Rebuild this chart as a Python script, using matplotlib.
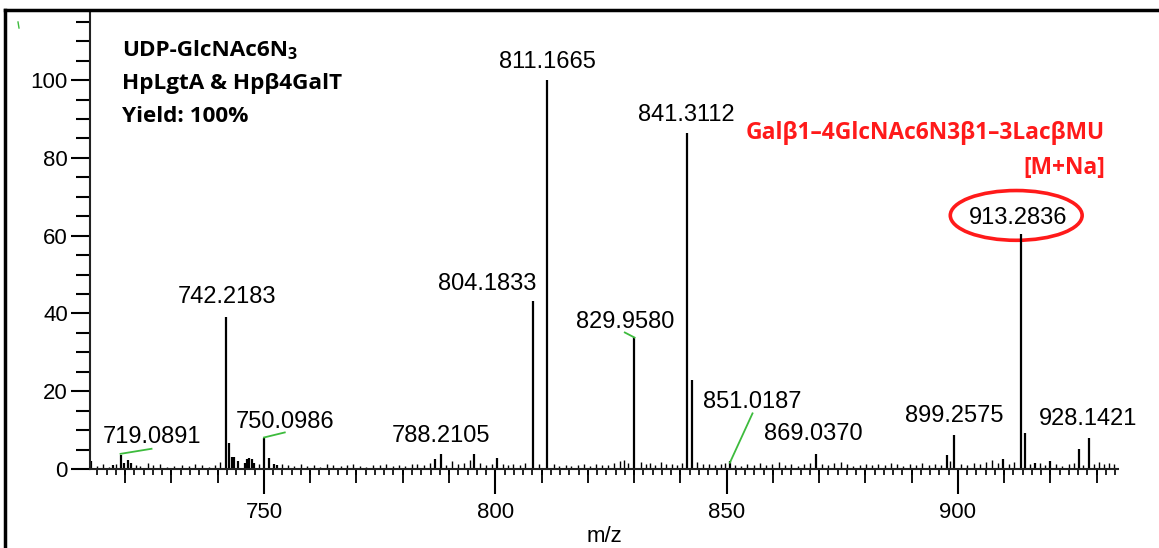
import matplotlib.pyplot as plt
import numpy as np
from matplotlib.patches import Ellipse
from matplotlib.ticker import MultipleLocator

plt.rcParams['font.family'] = ['Liberation Sans', 'DejaVu Sans']

# main peaks (m/z as drawn, relative intensity %)
peak_mz = [712.6, 717.3, 719.0, 719.7, 720.6, 721.2, 741.9, 742.4, 743.2, 743.5,
           744.4, 745.8, 746.3, 746.8, 747.4, 747.8, 750.0, 751.1, 752.2, 752.8,
           787.0, 788.3, 795.5, 800.3, 808.1, 811.2, 830.0, 841.4, 842.5, 850.7,
           869.3, 897.7, 899.2, 909.7, 913.6, 914.5, 916.6, 919.9, 926.2, 928.3]
peak_int = [2.0, 1.0, 3.5, 1.5, 2.2, 1.5, 39.0, 6.7, 3.0, 3.0,
            2.0, 1.5, 2.5, 2.7, 2.5, 1.5, 8.0, 2.8, 1.3, 1.0,
            2.5, 3.9, 3.8, 2.7, 43.3, 100.0, 34.0, 86.3, 22.8, 2.0,
            3.9, 3.5, 8.8, 2.5, 60.3, 9.3, 1.5, 2.0, 5.2, 8.0]

# baseline noise peaks
noise_mz = [714.0, 715.2, 716.5, 718.1, 722.4, 723.3, 724.9, 726.0, 727.6, 729.1,
            730.5, 732.2, 733.8, 735.0, 736.6, 738.1, 739.4, 740.6, 749.0, 753.9,
            755.1, 756.4, 758.0, 759.3, 760.9, 762.2, 763.7, 765.0, 766.6, 767.9,
            769.2, 770.8, 772.1, 773.5, 775.0, 776.3, 777.8, 779.2, 780.4, 781.9,
            783.1, 784.6, 785.8, 789.4, 790.6, 792.0, 793.3, 794.6, 796.7, 798.0,
            799.2, 801.6, 802.8, 803.9, 805.3, 806.5, 809.4, 812.6, 813.8, 815.2,
            816.4, 817.9, 819.1, 820.5, 821.8, 823.0, 824.4, 825.6, 826.9, 827.8,
            828.6, 831.4, 832.5, 833.4, 834.6, 835.8, 836.9, 838.1, 839.2, 840.3,
            843.6, 844.9, 846.2, 847.5, 848.7, 849.6, 851.8, 853.2, 854.5, 855.9,
            857.2, 858.6, 859.9, 861.3, 862.6, 864.0, 865.4, 866.7, 868.0, 870.6,
            872.0, 873.3, 874.7, 876.0, 877.4, 878.8, 880.1, 881.5, 882.8, 884.2,
            885.5, 886.9, 888.2, 889.6, 891.0, 892.3, 893.7, 895.0, 896.4, 898.3,
            900.6, 902.0, 903.4, 904.7, 906.1, 907.4, 908.6, 911.0, 912.2, 915.6,
            917.8, 918.9, 921.3, 922.6, 924.0, 925.1, 927.0, 929.4, 930.5, 931.6,
            932.7, 933.8]
noise_int = [0.8, 1.2, 0.6, 1.4, 1.1, 0.7, 1.6, 0.9, 1.2, 0.6,
             0.8, 1.0, 0.7, 1.3, 0.9, 0.6, 1.0, 1.8, 1.2, 1.4,
             1.0, 0.7, 1.2, 0.8, 1.1, 0.6, 1.3, 0.9, 0.7, 1.0,
             1.2, 0.8, 0.6, 1.1, 0.9, 1.3, 0.7, 1.0, 0.8, 1.4,
             1.2, 0.9, 1.6, 1.1, 2.0, 1.3, 1.6, 2.2, 1.5, 1.0,
             1.4, 1.3, 0.9, 1.2, 1.0, 1.5, 1.2, 1.4, 0.8, 1.1,
             0.7, 1.0, 1.2, 0.8, 1.3, 0.9, 1.1, 1.6, 2.0, 2.4,
             1.5, 1.8, 1.3, 1.5, 1.1, 1.7, 1.2, 1.4, 1.0, 1.6,
             1.8, 1.2, 1.4, 0.9, 1.3, 1.5, 1.1, 0.8, 1.2, 1.0,
             1.5, 0.9, 1.3, 1.7, 1.1, 1.4, 0.8, 1.2, 1.6, 1.3,
             1.0, 1.5, 1.7, 1.2, 0.8, 1.1, 1.4, 0.9, 1.3, 1.0,
             1.5, 1.2, 0.8, 1.4, 1.1, 1.6, 0.9, 1.2, 1.0, 2.0,
             1.3, 1.1, 1.5, 1.2, 1.8, 2.2, 1.6, 1.4, 1.7, 1.2,
             1.6, 1.0, 1.3, 0.8, 1.2, 1.5, 1.1, 1.4, 1.7, 1.2,
             1.6, 1.3]

# peak labels: text, label position
label_txt = ['719.0891', '742.2183', '750.0986', '788.2105', '804.1833', '811.1665',
             '829.9580', '841.3112', '851.0187', '869.0370', '899.2575', '913.2836',
             '928.1421']
label_x = [725.8, 742.0, 754.5, 788.3, 798.2, 811.2, 828.0, 841.2, 855.5, 868.7,
           899.1, 913.0, 928.2]
label_y = [8.2, 44.2, 12.0, 8.5, 47.6, 104.7, 37.8, 91.1, 17.2, 9.0,
           13.6, 64.6, 12.9]

# green leader lines (x0, x1, y0, y1)
leader_x = [(719.0, 725.7), (750.0, 754.5), (828.0, 830.1), (850.7, 855.6)]
leader_y = [(3.9, 5.2), (8.1, 9.4), (35.1, 33.8), (1.6, 14.3)]

green = '#3dbb3d'
red = '#ff1a1a'
bold_font = ['Open Sans', 'DejaVu Sans']

fig = plt.figure(figsize=(11.59, 5.48), dpi=100)
ax = fig.add_axes([90/1159, 79/548, 1028/1159, 457/548])

ax.vlines(noise_mz, 0, noise_int, color='k', lw=1.0)
ax.vlines(peak_mz, 0, peak_int, color='k', lw=1.6)

for t, x, y in zip(label_txt, label_x, label_y):
    ax.text(x, y, t, fontsize=17, ha='center', va='center')
for xs, ys in zip(leader_x, leader_y):
    ax.plot(xs, ys, color=green, lw=1.3)

ax.add_patch(Ellipse((912.6, 65.2), 28.5, 12.8, fill=False, ec=red, lw=2.6))

ax.text(931.8, 86.3, 'Gal\u03b21\u20134GlcNAc6N3\u03b21\u20133Lac\u03b2MU', color=red,
        fontsize=16.4, fontweight='bold', ha='right', va='center', family=bold_font)
ax.text(931.8, 77.3, '[M+Na]', color=red, fontsize=16.4, fontweight='bold',
        ha='right', va='center', family=bold_font)

t1 = ax.text(719.3, 107.5, 'UDP-GlcNAc6N', fontsize=16.2, fontweight='bold',
             va='center', family=bold_font)
ax.annotate('3', xy=(1, 0), xycoords=t1, xytext=(0, -1), textcoords='offset points',
            fontsize=11.5, fontweight='bold', va='bottom', family=bold_font)
ax.text(719.3, 99.1, 'HpLgtA & Hp\u03b24GalT', fontsize=16.2, fontweight='bold',
        va='center', family=bold_font)
ax.text(719.3, 90.6, 'Yield: 100%', fontsize=16.2, fontweight='bold',
        va='center', family=bold_font)

ax.set_xlim(712.4, 934.6)
ax.set_ylim(0, 117.5)
for s in ['top', 'right']:
    ax.spines[s].set_visible(False)
for s in ['left', 'bottom']:
    ax.spines[s].set_linewidth(1.5)
    ax.spines[s].set_color('#222222')

ax.xaxis.set_major_locator(MultipleLocator(50))
ax.xaxis.set_minor_locator(MultipleLocator(2))
ax.yaxis.set_major_locator(MultipleLocator(20))
ax.yaxis.set_minor_locator(MultipleLocator(5))
ax.tick_params(axis='x', which='major', length=18, width=1.5, labelsize=16, pad=6)
ax.tick_params(axis='x', which='minor', length=4, width=1.2)
ax.tick_params(axis='y', which='major', length=14, width=1.5, labelsize=16, pad=2)
ax.tick_params(axis='y', which='minor', length=10, width=1.5)

# medium ticks every 10
sec = ax.secondary_xaxis('bottom')
sec.xaxis.set_major_locator(MultipleLocator(10))
sec.tick_params(length=10, width=1.3, labelbottom=False)
sec.spines['bottom'].set_visible(False)

ax.set_xlabel('m/z', fontsize=16, labelpad=2)

# outer frame (top and left edges visible)
fig.add_artist(plt.Line2D([5/1159, 5/1159], [0, 1 - 10/548], color='k', lw=2.5))
fig.add_artist(plt.Line2D([5/1159, 1], [1 - 10/548, 1 - 10/548], color='k', lw=2.5))
fig.add_artist(plt.Line2D([18/1159, 19/1159], [1 - 22/548, 1 - 28/548], color=green, lw=1))

fig.savefig('out.png', dpi=100)
